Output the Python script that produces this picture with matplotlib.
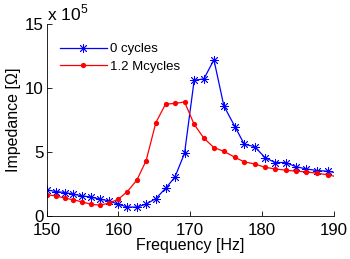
import numpy as np
import matplotlib
matplotlib.use("Agg")
import matplotlib.pyplot as plt

plt.rcParams['font.family'] = ['Liberation Sans', 'DejaVu Sans']
plt.rcParams['mathtext.fontset'] = 'custom'
plt.rcParams['mathtext.rm'] = 'Liberation Sans'

# frequency points (Hz), shared by both sweeps
freq = [150.0, 151.25, 152.55, 153.71, 154.92, 156.18, 157.43, 158.64, 159.94, 161.24,
        162.55, 163.85, 165.2, 166.55, 167.85, 169.2, 170.54, 171.89, 173.29, 174.68,
        176.22, 177.52, 178.96, 180.4, 181.8, 183.28, 184.68, 186.12, 187.7, 189.23, 190.8]

# impedance in units of 1e5 Ohm
z_0cyc = [2.03, 1.9, 1.82, 1.69, 1.56, 1.46, 1.3, 1.17, 0.91, 0.68,
          0.68, 0.91, 1.35, 2.14, 3.02, 4.9, 10.62, 10.72, 12.22, 8.6,
          6.98, 5.6, 5.42, 4.56, 4.17, 4.17, 3.85, 3.67, 3.54, 3.49, 3.3]
z_12M = [1.64, 1.56, 1.38, 1.25, 1.09, 0.89, 0.83, 0.99, 1.28, 1.9,
         2.79, 4.32, 7.29, 8.75, 8.8, 8.92, 7.16, 6.08, 5.34, 5.05,
         4.58, 4.22, 4.06, 3.8, 3.67, 3.57, 3.49, 3.44, 3.33, 3.2, 3.0]

labels = ['0 cycles', '1.2 Mcycles']
xticks = [150, 160, 170, 180, 190]
yticks = [0, 5, 10, 15]

fig = plt.figure(figsize=(3.5, 2.59), dpi=100)
ax = fig.add_axes([0.1334, 0.167, 0.8206, 0.739])

ax.plot(freq, z_0cyc, color='blue', lw=0.9, marker=(8, 2, 0), ms=6.5, mew=0.6,
        label=labels[0])
ax.plot(freq, z_12M, color='red', lw=0.9, marker='o', ms=3.8, mew=0,
        label=labels[1])

ax.set_xlim(150, 190)
ax.set_ylim(0, 15)
ax.set_xticks(xticks)
ax.set_yticks(yticks)
ax.tick_params(direction='in', length=3.5, width=0.6, labelsize=12.2)
ax.tick_params(axis='x', pad=5.5)
ax.tick_params(axis='y', pad=2)
for s in ['top', 'right']:
    ax.spines[s].set_visible(False)
for s in ['left', 'bottom']:
    ax.spines[s].set_linewidth(0.6)

ax.set_xlabel('Frequency [Hz]', fontsize=11.5, labelpad=0)
ax.set_ylabel('Impedance [Ω]', fontsize=11.5, labelpad=3)
ax.text(0.0, 1.005, r'x 10$^{5}$', transform=ax.transAxes, fontsize=12.5,
        ha='left', va='bottom')

ax.legend(loc='upper left', bbox_to_anchor=(0.027, 0.93), frameon=False,
          fontsize=9.5, handlelength=3.6, handletextpad=0.2, labelspacing=0.4,
          borderaxespad=0)

fig.savefig('out.png', dpi=100)
